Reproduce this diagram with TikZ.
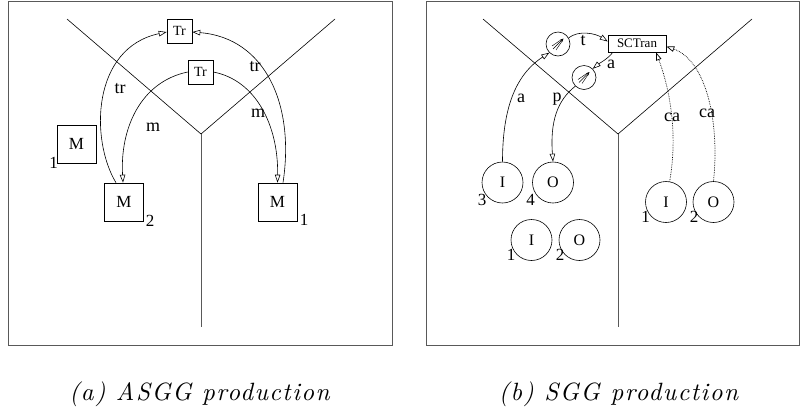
\documentclass[tikz,border=0pt]{standalone}
\usepackage{fontspec}
\usetikzlibrary{arrows.meta}
\newfontfamily\tms{Liberation Serif}
\newfontfamily\capfont{lmroman10-regular.otf}[ItalicFont=lmroman10-italic.otf,LetterSpace=6]

% small feathered-arrow glyph drawn inside the round state nodes
\newcommand\fanicon[1]{%
  \draw[line width=0.45pt,-{Stealth[length=3.5pt,width=3pt]}] ([shift={(-5,5)}]#1.center) -- ([shift={(5.5,-5.5)}]#1.center);
  \draw[line width=0.45pt] ([shift={(-6,2)}]#1.center) -- ([shift={(3.5,-4.5)}]#1.center);
  \draw[line width=0.45pt] ([shift={(-2,6)}]#1.center) -- ([shift={(4.5,-3.5)}]#1.center);
}

\begin{document}
\begin{tikzpicture}[x=1pt,y=-1pt,
  frame/.style={draw=black!65,line width=0.9pt},
  axis/.style={draw,line width=0.6pt},
  stem/.style={draw=black!65,line width=1pt},
  sq/.style={draw,line width=0.6pt,minimum width=39pt,minimum height=38pt,inner sep=0pt,font=\tms\fontsize{17}{17}\selectfont},
  trbox/.style={draw,line width=0.6pt,minimum width=25pt,minimum height=24pt,inner sep=0pt,font=\tms\fontsize{14}{14}\selectfont},
  scbox/.style={draw,line width=0.6pt,minimum width=58pt,minimum height=17pt,inner sep=0pt,font=\tms\fontsize{13}{13}\selectfont},
  st/.style={draw,circle,line width=0.6pt,minimum size=41pt,inner sep=0pt,font=\tms\fontsize{16}{16}\selectfont},
  sm/.style={draw,circle,line width=0.6pt,minimum size=24pt,inner sep=0pt},
  num/.style={inner sep=0pt,font=\tms\fontsize{17}{17}\selectfont},
  lbl/.style={inner sep=0pt,font=\tms\fontsize{18}{18}\selectfont},
  captext/.style={inner sep=0pt,font=\capfont\itshape\fontsize{25}{30}\selectfont},
  edge/.style={line width=0.6pt},
  tip/.style={-{Triangle[open,length=8pt,width=5.5pt]}},
  rtip/.style={{Triangle[open,length=8pt,width=5.5pt]}-},
  ghost/.style={densely dotted,line width=0.7pt}]

\useasboundingbox (0,0) rectangle (800,416);

% ---------- panel (a) ----------
\draw[frame] (8,1) rectangle (392,345);
\coordinate (ya) at (201,134);
\coordinate (yal) at (67,19);
\coordinate (yar) at (335,19);
\coordinate (yab) at (201,327);
\draw[axis] (yal) -- (ya) -- (yar);
\draw[stem] (ya) -- (yab);

\node[trbox] (tr1) at (179.5,31) {Tr};
\node[trbox] (tr2) at (200.5,72) {Tr};
\node[sq] (ma) at (76.5,144) {M};
\node[sq] (mb) at (124,202) {M};
\node[sq] (mc) at (277.5,202) {M};
\node[num] (na) at (53.5,162.5) {1};
\node[num] (nb) at (150,220.5) {2};
\node[num] (nc) at (304,219.5) {1};

\draw[edge,tip] ([xshift=-8pt]mb.north) .. controls +(-26,-43) and +(-75,16) .. ([yshift=-1pt]tr1.west);
\draw[edge,rtip] ([yshift=-1pt]tr1.east) .. controls +(73,6) and +(12,-78) .. ([xshift=5.5pt]mc.north);
\draw[edge,tip] (tr2.west) .. controls +(-48,10) and +(-3,-53) .. ([xshift=-1pt]mb.north);
\draw[edge,tip] (tr2.east) .. controls +(42,8) and +(1,-58) .. (mc.north);

\node[lbl] (la) at (120,89) {tr};
\node[lbl] (lb) at (255,67) {tr};
\node[lbl] (lc) at (153,127) {m};
\node[lbl] (ld) at (258,113) {m};

% ---------- panel (b) ----------
\draw[frame] (426,1) rectangle (799.5,345);
\coordinate (yb) at (618,134);
\coordinate (ybl) at (483,19);
\coordinate (ybr) at (752,19);
\coordinate (ybb) at (618,327);
\draw[axis] (ybl) -- (yb) -- (ybr);
\draw[stem] (yb) -- (ybb);

\node[scbox] (sct) at (637,43.5) {SCTran};
\node[sm] (c1) at (558,44) {};
\node[sm] (c2) at (584,77.5) {};
\fanicon{c1}
\fanicon{c2}

\node[st] (i3) at (502.5,182.5) {I};
\node[st] (o4) at (553,182.5) {O};
\node[st] (i1) at (531.5,240) {I};
\node[st] (o2) at (579.5,240) {O};
\node[st] (i1r) at (666,202) {I};
\node[st] (o2r) at (713.5,202) {O};

\node[num] (n3) at (482,199.5) {3};
\node[num] (n4) at (530.5,199.5) {4};
\node[num] (n1) at (511,255) {1};
\node[num] (n2) at (560,255) {2};
\node[num] (n1r) at (645.5,216.5) {1};
\node[num] (n2r) at (694,216.5) {2};

\draw[edge,tip] (i3.north) .. controls +(0,-52) and +(-34.5,22.5) .. (c1.south west);
\draw[edge,tip] (c1.30) .. controls +(10,-8) and +(-12,-8) .. ([yshift=2pt]sct.west);
\draw[edge,tip] ([xshift=5pt]sct.south west) .. controls +(-4,6) and +(6,-5) .. (c2.north east);
\draw[edge,tip] (c2.south west) .. controls +(-18,14) and +(-3,-40) .. (o4.north);
\draw[ghost,tip] (i1r.80) .. controls +(8,-45) and +(15,40) .. ([xshift=19pt]sct.south);
\draw[ghost,tip] (o2r.north) .. controls +(6.5,-61.5) and +(39,13.5) .. ([yshift=-3pt]sct.east);

\node[lbl] (le) at (583,41) {t};
\node[lbl] (lf) at (611,64) {a};
\node[lbl] (lg) at (521,98) {a};
\node[lbl] (lh) at (557,99) {p};
\node[lbl] (li) at (672,117) {ca};
\node[lbl] (lj) at (707,113) {ca};

% ---------- captions ----------
\node[captext] (capa) at (199.5,394) {(a) ASGG production};
\node[captext] (capb) at (618.5,394) {(b) SGG production};
\end{tikzpicture}
\end{document}
